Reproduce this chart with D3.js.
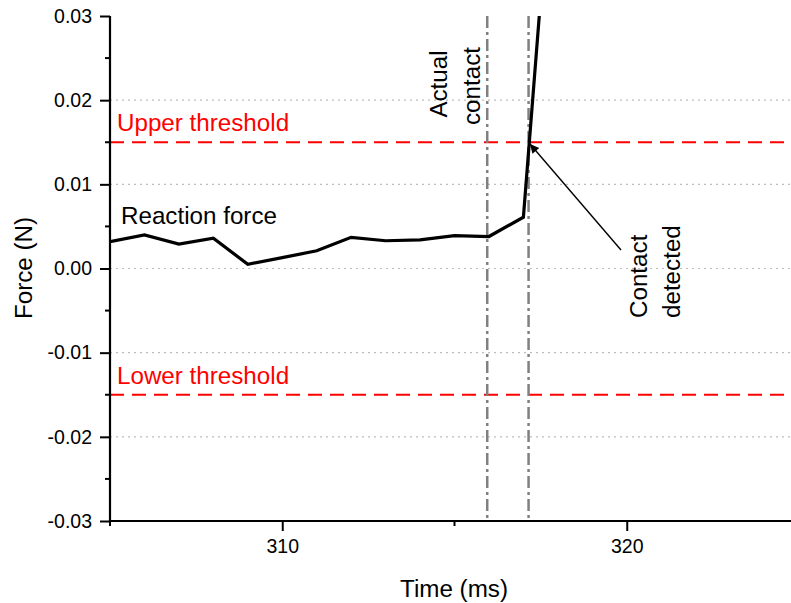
<!DOCTYPE html>
<html>
<head>
<meta charset="utf-8">
<script src="https://cdn.jsdelivr.net/npm/d3@7"></script>
<style>
  html, body { margin: 0; padding: 0; background: #fff; }
  svg { display: block; font-family: Arial, "Liberation Sans", sans-serif; }
</style>
</head>
<body>
<svg id="chart" width="791" height="603"></svg>
<script>
// Sampled reaction force (N) at 1 ms intervals
const timeMs = [305, 306, 307, 308, 309, 310, 311, 312, 313, 314, 315, 316, 317, 318];
const forceN = [0.0032, 0.0040, 0.0029, 0.0036, 0.0005, 0.0013, 0.0021, 0.0037, 0.0033, 0.0034, 0.0039, 0.0038, 0.0061, 0.058];

const thresholds = [0.015, -0.015];
const thresholdLabels = ["Upper threshold", "Lower threshold"];
const eventTimes = [315.95, 317.15];   // actual contact, detected contact

const yMajorTicks = [-0.03, -0.02, -0.01, 0.00, 0.01, 0.02, 0.03];
const yMinorTicks = [-0.025, -0.015, -0.005, 0.005, 0.015, 0.025];
const yGridTicks = [-0.02, -0.01, 0.00, 0.01, 0.02];
const xMajorTicks = [310, 320];
const xMinorTicks = [305, 315, 325];

(function draw() {
const svg = d3.select("#chart");
const pL = 110, pT = 16, pB = 521, pR = 799;
const labelSize = 24.2;

const x = d3.scaleLinear().domain([305, 325]).range([pL, pR]);
const y = d3.scaleLinear().domain([-0.03, 0.03]).range([pB, pT]);

const defs = svg.append("defs");
defs.append("clipPath").attr("id", "plotClip")
  .append("rect").attr("x", pL).attr("y", pT).attr("width", pR - pL).attr("height", pB - pT);

// Horizontal dotted gridlines
svg.append("g").selectAll("line").data(yGridTicks).join("line")
  .attr("x1", pL).attr("x2", pR)
  .attr("y1", d => y(d)).attr("y2", d => y(d))
  .attr("stroke", "#bdbdbd").attr("stroke-width", 1.2).attr("stroke-dasharray", "2,4");

// Threshold lines
svg.append("g").selectAll("line").data(thresholds).join("line")
  .attr("x1", pL).attr("x2", pR)
  .attr("y1", d => y(d)).attr("y2", d => y(d))
  .attr("stroke", "#ff0000").attr("stroke-width", 2.2).attr("stroke-dasharray", "14,8");

svg.append("g").selectAll("text").data(thresholds).join("text")
  .attr("x", 117).attr("y", d => y(d) - 11)
  .attr("fill", "#ff0000").attr("font-size", labelSize)
  .text((d, i) => thresholdLabels[i]);

// Event markers (dash-dot)
svg.append("g").selectAll("line").data(eventTimes).join("line")
  .attr("x1", d => x(d)).attr("x2", d => x(d))
  .attr("y1", pT).attr("y2", pB)
  .attr("stroke", "#808080").attr("stroke-width", 2.5).attr("stroke-dasharray", "12,4,3,4");

// Force trace
const line = d3.line().x((d, i) => x(timeMs[i])).y(d => y(d));
svg.append("path").datum(forceN)
  .attr("clip-path", "url(#plotClip)")
  .attr("d", line)
  .attr("fill", "none").attr("stroke", "#000").attr("stroke-width", 3.2)
  .attr("stroke-linejoin", "miter");

// Axes
const yAxis = d3.axisLeft(y).tickValues(yMajorTicks).tickSize(10).tickPadding(8)
  .tickFormat(d => d3.format(".2f")(d).replace("\u2212", "-"));
const gy = svg.append("g").attr("transform", `translate(${pL},0)`).call(yAxis);
gy.select(".domain").remove();
gy.selectAll(".tick line").attr("stroke-width", 2);
gy.selectAll(".tick text").attr("font-size", 19.5).attr("fill", "#000")
  .attr("font-family", "Arial, 'Liberation Sans', sans-serif");
svg.append("g").selectAll("line").data(yMinorTicks).join("line")
  .attr("x1", pL - 5).attr("x2", pL).attr("y1", d => y(d)).attr("y2", d => y(d))
  .attr("stroke", "#000").attr("stroke-width", 2);

const xAxis = d3.axisBottom(x).tickValues(xMajorTicks).tickSize(10).tickPadding(8)
  .tickFormat(d3.format("d"));
const gx = svg.append("g").attr("transform", `translate(0,${pB})`).call(xAxis);
gx.select(".domain").remove();
gx.selectAll(".tick line").attr("stroke-width", 2);
gx.selectAll(".tick text").attr("font-size", 19.5).attr("fill", "#000")
  .attr("font-family", "Arial, 'Liberation Sans', sans-serif");
svg.append("g").selectAll("line").data(xMinorTicks).join("line")
  .attr("x1", d => x(d)).attr("x2", d => x(d)).attr("y1", pB).attr("y2", pB + 5)
  .attr("stroke", "#000").attr("stroke-width", 2);

// Axis lines
svg.append("line").attr("x1", pL).attr("x2", pL).attr("y1", pT).attr("y2", pB + 1)
  .attr("stroke", "#000").attr("stroke-width", 2.2);
svg.append("line").attr("x1", pL - 1).attr("x2", pR).attr("y1", pB).attr("y2", pB)
  .attr("stroke", "#000").attr("stroke-width", 2.2);

// Axis titles
svg.append("text").attr("x", 454).attr("y", 597).attr("text-anchor", "middle")
  .attr("font-size", labelSize).text("Time (ms)");
svg.append("text").attr("transform", "translate(32,268) rotate(-90)").attr("text-anchor", "middle")
  .attr("font-size", labelSize).text("Force (N)");

// Annotations
svg.append("text").attr("x", 121).attr("y", 224).attr("font-size", labelSize).text("Reaction force");

svg.append("text").attr("transform", "translate(447,84) rotate(-90)").attr("text-anchor", "middle")
  .attr("font-size", labelSize).text("Actual");
svg.append("text").attr("transform", "translate(480,86) rotate(-90)").attr("text-anchor", "middle")
  .attr("font-size", labelSize).text("contact");

svg.append("text").attr("transform", "translate(647,318) rotate(-90)").attr("text-anchor", "start")
  .attr("font-size", labelSize).text("Contact");
svg.append("text").attr("transform", "translate(680,318) rotate(-90)").attr("text-anchor", "start")
  .attr("font-size", labelSize).text("detected");

// Arrow pointing at the detection point
defs.append("marker").attr("id", "arrowHead")
  .attr("viewBox", "0 0 10 10").attr("refX", 10).attr("refY", 5)
  .attr("markerWidth", 12).attr("markerHeight", 9).attr("markerUnits", "userSpaceOnUse")
  .attr("orient", "auto")
  .append("path").attr("d", "M0,0 L10,5 L0,10 Z").attr("fill", "#000");
svg.append("line")
  .attr("x1", 621).attr("y1", 250).attr("x2", 530).attr("y2", 144)
  .attr("stroke", "#000").attr("stroke-width", 1.4).attr("marker-end", "url(#arrowHead)");
})();
</script>
</body>
</html>
